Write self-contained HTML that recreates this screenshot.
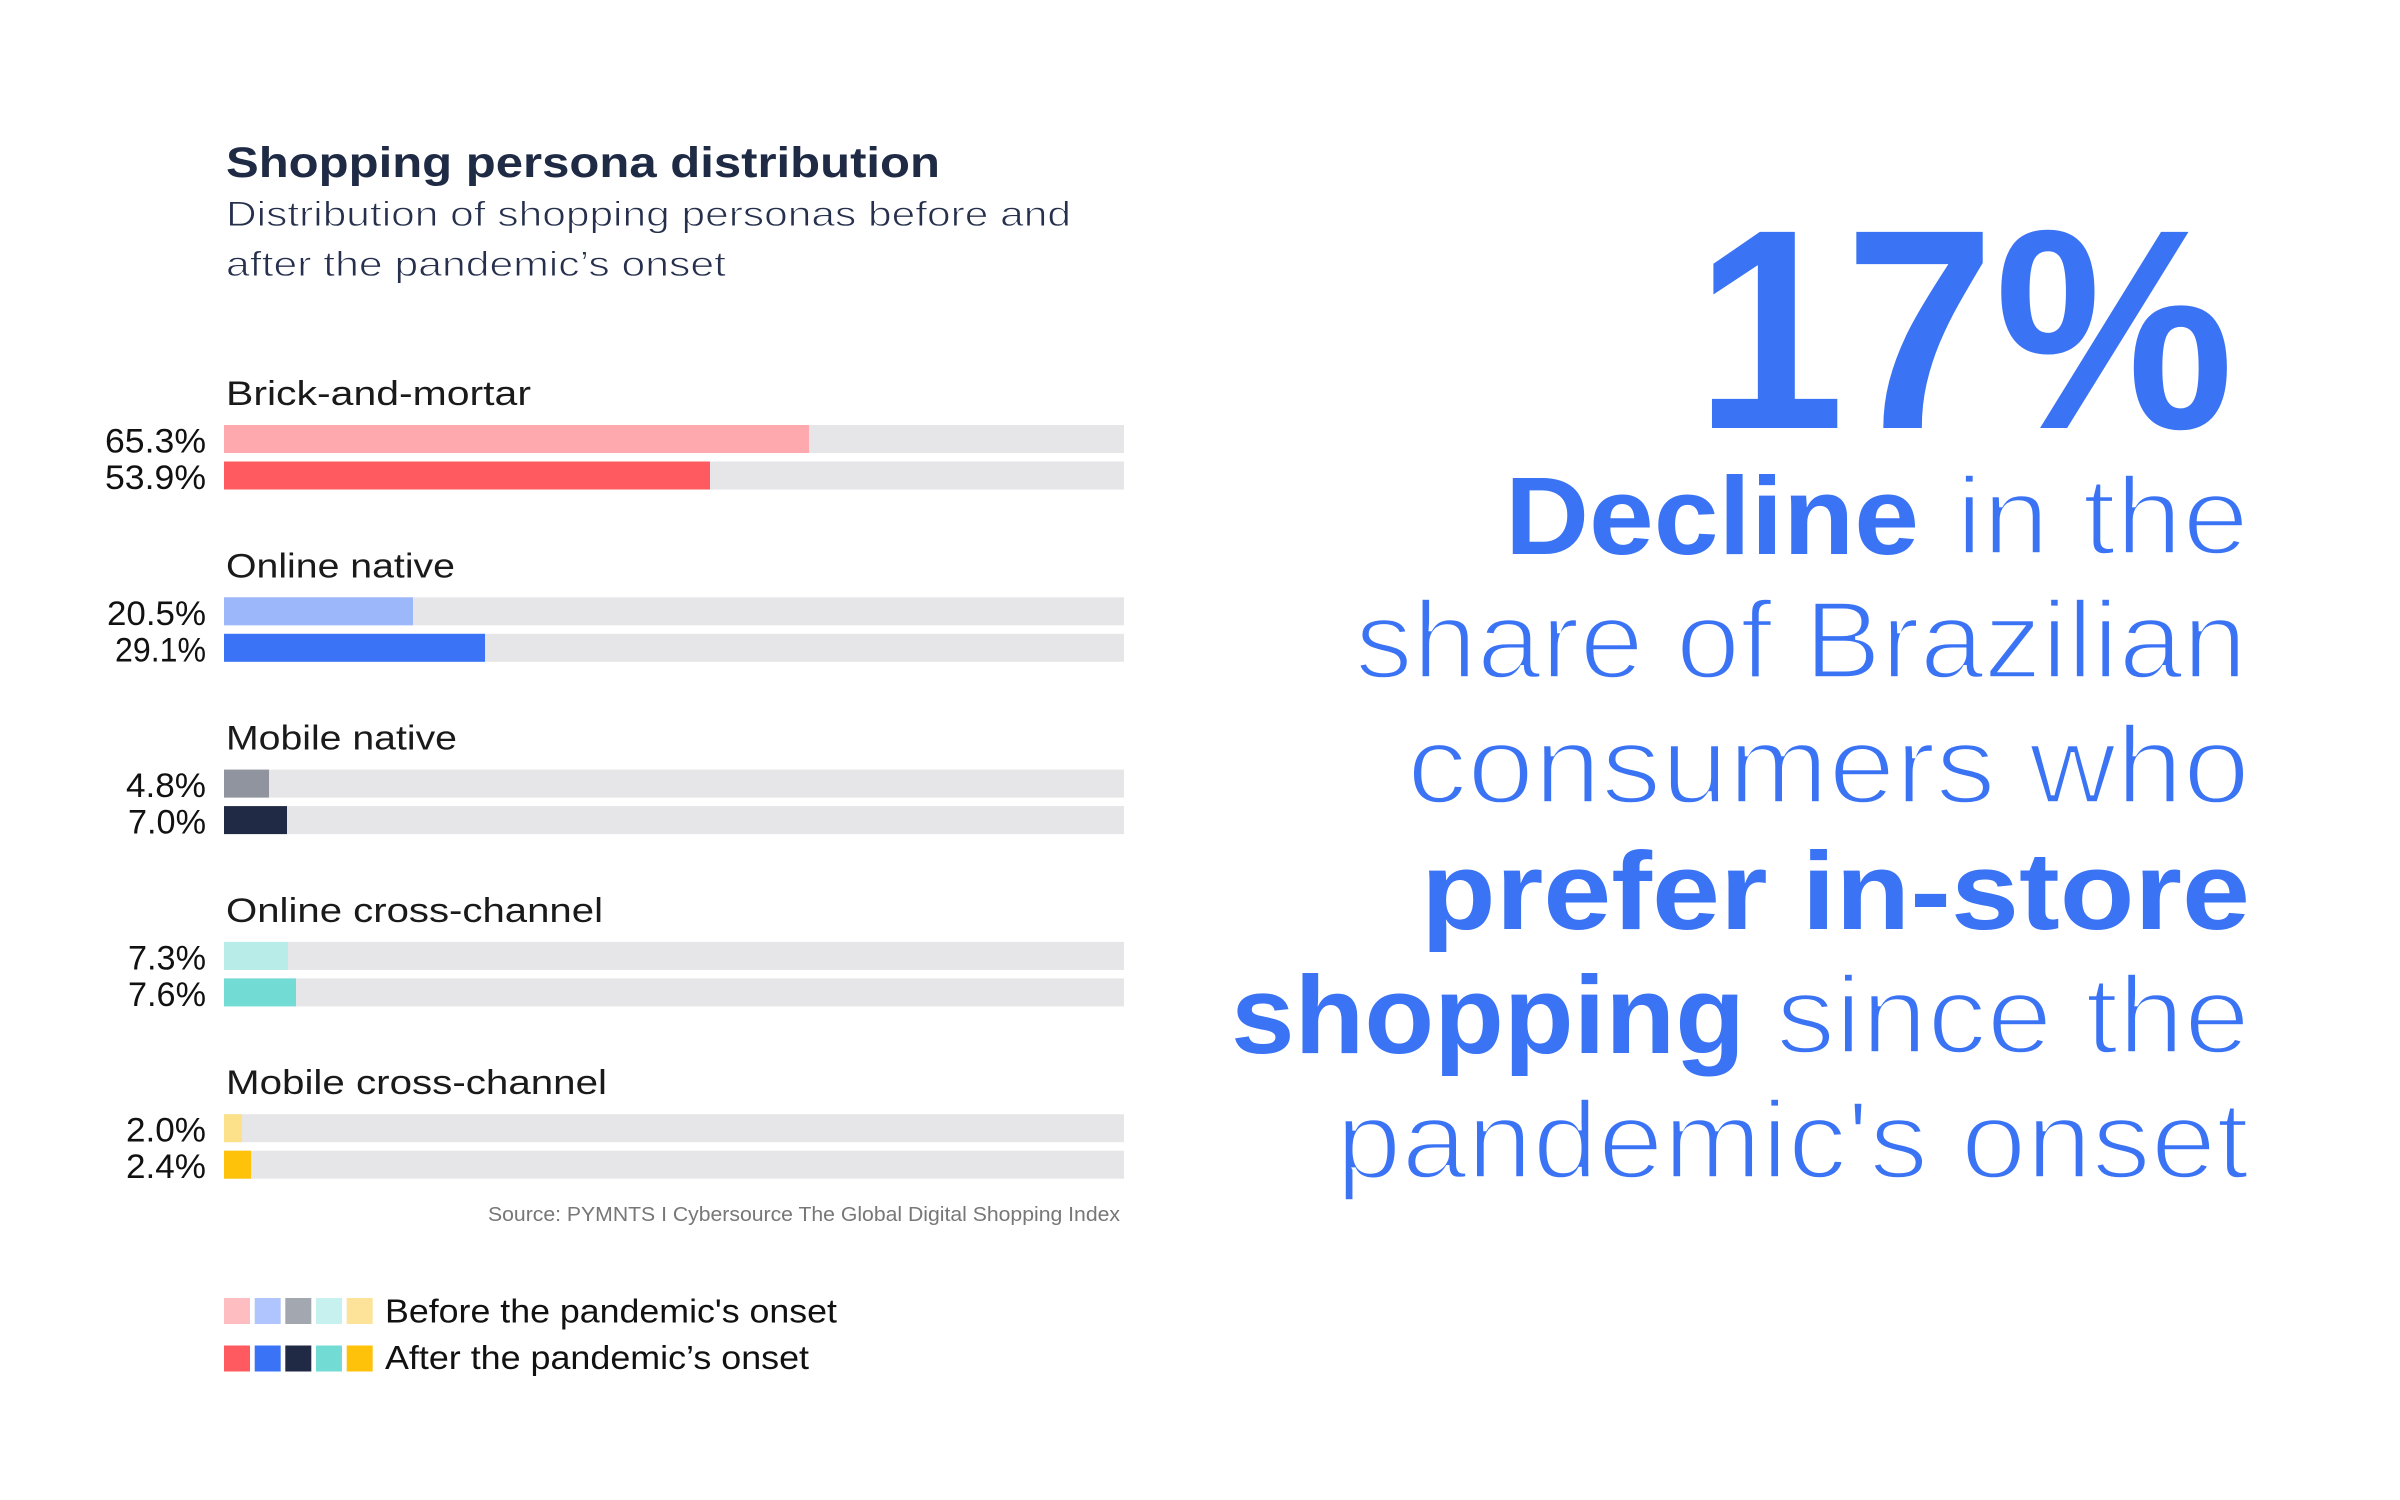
<!DOCTYPE html>
<html>
<head>
<meta charset="utf-8">
<style>
  html, body { margin: 0; padding: 0; background: #ffffff; }
  body { width: 2400px; height: 1500px; overflow: hidden; }
  svg { display: block; }
  text { font-family: "Liberation Sans", "DejaVu Sans", sans-serif; }
  .lt { stroke: #ffffff; stroke-width: 3.4px; }
  .lts { stroke: #ffffff; stroke-width: 0.9px; }
</style>
</head>
<body>
<svg width="2400" height="1500" viewBox="0 0 2400 1500" xmlns="http://www.w3.org/2000/svg">
  <rect x="0" y="0" width="2400" height="1500" fill="#ffffff"/>

  <!-- Title -->
  <text x="226" y="177" font-size="43" font-weight="bold" fill="#1f2a44" textLength="714" lengthAdjust="spacingAndGlyphs">Shopping persona distribution</text>
  <text class="lts" x="226" y="226" font-size="35" fill="#26304d" textLength="845" lengthAdjust="spacingAndGlyphs">Distribution of shopping personas before and</text>
  <text class="lts" x="226" y="276" font-size="35" fill="#26304d" textLength="500" lengthAdjust="spacingAndGlyphs">after the pandemic’s onset</text>

  <!-- Group 1: Brick-and-mortar -->
  <text x="226" y="405" font-size="34" fill="#1a1a1a" textLength="305" lengthAdjust="spacingAndGlyphs">Brick-and-mortar</text>
  <rect x="224" y="425" width="900" height="28" fill="#e6e6e8"/>
  <rect x="224" y="425" width="585" height="28" fill="#fea9ad"/>
  <rect x="224" y="461.5" width="900" height="28" fill="#e6e6e8"/>
  <rect x="224" y="461.5" width="486" height="28" fill="#ff5a5f"/>
  <text x="105" y="452.5" font-size="34" fill="#111" textLength="101" lengthAdjust="spacingAndGlyphs">65.3%</text>
  <text x="105" y="489" font-size="34" fill="#111" textLength="101" lengthAdjust="spacingAndGlyphs">53.9%</text>

  <!-- Group 2: Online native -->
  <text x="226" y="577.3" font-size="34" fill="#1a1a1a" textLength="229" lengthAdjust="spacingAndGlyphs">Online native</text>
  <rect x="224" y="597.3" width="900" height="28" fill="#e6e6e8"/>
  <rect x="224" y="597.3" width="189" height="28" fill="#9db7fb"/>
  <rect x="224" y="633.8" width="900" height="28" fill="#e6e6e8"/>
  <rect x="224" y="633.8" width="261" height="28" fill="#3b73f7"/>
  <text x="107" y="624.8" font-size="34" fill="#111" textLength="99" lengthAdjust="spacingAndGlyphs">20.5%</text>
  <text x="115" y="661.3" font-size="34" fill="#111" textLength="91" lengthAdjust="spacingAndGlyphs">29.1%</text>

  <!-- Group 3: Mobile native -->
  <text x="226" y="749.6" font-size="34" fill="#1a1a1a" textLength="231" lengthAdjust="spacingAndGlyphs">Mobile native</text>
  <rect x="224" y="769.6" width="900" height="28" fill="#e6e6e8"/>
  <rect x="224" y="769.6" width="45" height="28" fill="#8f949f"/>
  <rect x="224" y="806.1" width="900" height="28" fill="#e6e6e8"/>
  <rect x="224" y="806.1" width="63" height="28" fill="#202a44"/>
  <text x="126" y="797.1" font-size="34" fill="#111" textLength="80" lengthAdjust="spacingAndGlyphs">4.8%</text>
  <text x="128" y="833.6" font-size="34" fill="#111" textLength="78" lengthAdjust="spacingAndGlyphs">7.0%</text>

  <!-- Group 4: Online cross-channel -->
  <text x="226" y="921.9" font-size="34" fill="#1a1a1a" textLength="377" lengthAdjust="spacingAndGlyphs">Online cross-channel</text>
  <rect x="224" y="941.9" width="900" height="28" fill="#e6e6e8"/>
  <rect x="224" y="941.9" width="64" height="28" fill="#b8ece8"/>
  <rect x="224" y="978.4" width="900" height="28" fill="#e6e6e8"/>
  <rect x="224" y="978.4" width="72" height="28" fill="#72dbd4"/>
  <text x="128" y="969.4" font-size="34" fill="#111" textLength="78" lengthAdjust="spacingAndGlyphs">7.3%</text>
  <text x="128" y="1005.9" font-size="34" fill="#111" textLength="78" lengthAdjust="spacingAndGlyphs">7.6%</text>

  <!-- Group 5: Mobile cross-channel -->
  <text x="226" y="1094.2" font-size="34" fill="#1a1a1a" textLength="381" lengthAdjust="spacingAndGlyphs">Mobile cross-channel</text>
  <rect x="224" y="1114.2" width="900" height="28" fill="#e6e6e8"/>
  <rect x="224" y="1114.2" width="18" height="28" fill="#fde08a"/>
  <rect x="224" y="1150.7" width="900" height="28" fill="#e6e6e8"/>
  <rect x="224" y="1150.7" width="27" height="28" fill="#ffc20a"/>
  <text x="126" y="1141.7" font-size="34" fill="#111" textLength="80" lengthAdjust="spacingAndGlyphs">2.0%</text>
  <text x="126" y="1178.2" font-size="34" fill="#111" textLength="80" lengthAdjust="spacingAndGlyphs">2.4%</text>

  <!-- Source -->
  <text x="488" y="1221" font-size="20.5" fill="#777777" textLength="632" lengthAdjust="spacingAndGlyphs">Source: PYMNTS I Cybersource The Global Digital Shopping Index</text>

  <!-- Legend -->
  <rect x="224" y="1298" width="26" height="26" fill="#fdbdc1"/>
  <rect x="254.7" y="1298" width="26" height="26" fill="#b0c5fd"/>
  <rect x="285.3" y="1298" width="26" height="26" fill="#a3a7b0"/>
  <rect x="316" y="1298" width="26" height="26" fill="#c6f1ee"/>
  <rect x="346.7" y="1298" width="26" height="26" fill="#fde399"/>
  <text x="385" y="1322.5" font-size="33" fill="#111" textLength="452" lengthAdjust="spacingAndGlyphs">Before the pandemic's onset</text>

  <rect x="224" y="1345.5" width="26" height="26" fill="#ff5a5f"/>
  <rect x="254.7" y="1345.5" width="26" height="26" fill="#3b73f7"/>
  <rect x="285.3" y="1345.5" width="26" height="26" fill="#202a44"/>
  <rect x="316" y="1345.5" width="26" height="26" fill="#72dbd4"/>
  <rect x="346.7" y="1345.5" width="26" height="26" fill="#ffc20a"/>
  <text x="385" y="1369" font-size="33" fill="#111" textLength="424" lengthAdjust="spacingAndGlyphs">After the pandemic’s onset</text>

  <!-- Right side big statement -->
  <g fill="#3b73f5">
    <text x="1695" y="428" font-size="285" font-weight="bold" textLength="539" lengthAdjust="spacingAndGlyphs">17%</text>

    <text x="1505" y="554" font-size="110" font-weight="bold" textLength="414" lengthAdjust="spacingAndGlyphs">Decline</text>
    <text class="lt" x="1956" y="554" font-size="110" textLength="293" lengthAdjust="spacingAndGlyphs">in the</text>

    <text class="lt" x="1355" y="678" font-size="110" textLength="892" lengthAdjust="spacingAndGlyphs">share of Brazilian</text>

    <text class="lt" x="1407" y="803" font-size="110" textLength="843" lengthAdjust="spacingAndGlyphs">consumers who</text>

    <text x="1421" y="929" font-size="110" font-weight="bold" textLength="829" lengthAdjust="spacingAndGlyphs">prefer in-store</text>

    <text x="1231" y="1053" font-size="110" font-weight="bold" textLength="514" lengthAdjust="spacingAndGlyphs">shopping</text>
    <text class="lt" x="1776" y="1053" font-size="110" textLength="474" lengthAdjust="spacingAndGlyphs">since the</text>

    <text class="lt" x="1336" y="1178" font-size="110" textLength="913" lengthAdjust="spacingAndGlyphs">pandemic's onset</text>
  </g>
</svg>
</body>
</html>
